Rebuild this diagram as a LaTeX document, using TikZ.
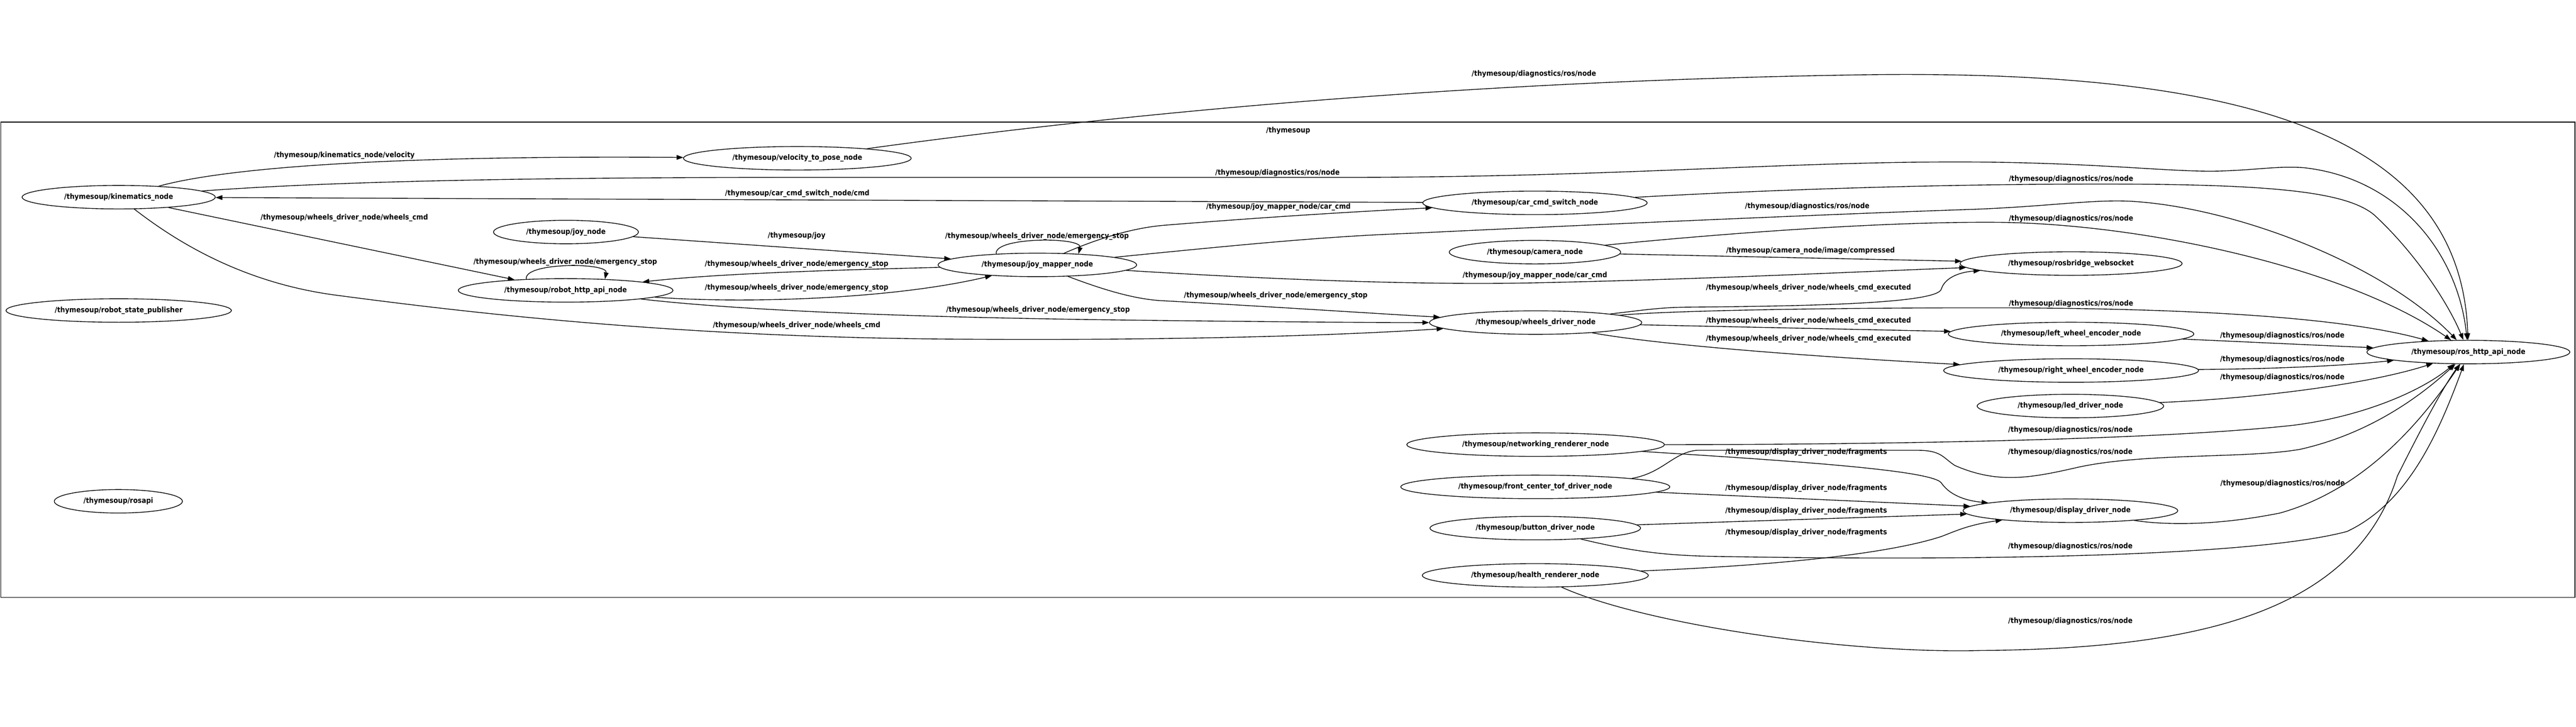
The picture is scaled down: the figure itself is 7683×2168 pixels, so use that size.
\documentclass[tikz,border=0pt]{standalone}
\usepackage{fontspec}
\setmainfont{DejaVu Sans}[FakeStretch=0.9]
\usetikzlibrary{shapes.geometric}
\usetikzlibrary{arrows.meta}
\tikzset{
    rosnode/.style = {ellipse, line width=0.6pt, draw=black, align=center, minimum height=0.70cm, inner sep=0pt, font=\bfseries\fontsize{6.25}{7}\selectfont, text=black},
    toplbl/.style = {inner sep=0pt, font=\bfseries\fontsize{6.25}{7}\selectfont, text=black},
    edgen/.style = {-{Triangle[length=2mm,width=1.4mm]}, line width=0.6pt, black},
    grpbox/.style = {line width=0.6pt, draw=black}, % namespace box
}
\begin{document}
\begin{tikzpicture}[x=0.01cm,y=-0.01cm]
%
\draw[grpbox] (2,364) rectangle (7680,1782);
\node[toplbl] at (3842,389) (grp) {/thymesoup};
%
\node[rosnode,minimum width=5.76cm] at (354,588) (kin) {/thymesoup/kinematics\_node};
\node[rosnode,minimum width=6.72cm] at (354,926) (rsp) {/thymesoup/robot\_state\_publisher};
\node[rosnode,minimum width=3.82cm] at (353,1495) (rosapi) {/thymesoup/rosapi};
\node[rosnode,minimum width=4.32cm] at (1688,692) (joy) {/thymesoup/joy\_node};
\node[rosnode,minimum width=6.40cm] at (1687,866) (rha) {/thymesoup/robot\_http\_api\_node};
\node[rosnode,minimum width=6.79cm] at (2378,472) (vtp) {/thymesoup/velocity\_to\_pose\_node};
\node[rosnode,minimum width=5.92cm] at (3094,790) (jm) {/thymesoup/joy\_mapper\_node};
\node[rosnode,minimum width=6.69cm] at (4578,605) (ccs) {/thymesoup/car\_cmd\_switch\_node};
\node[rosnode,minimum width=5.11cm] at (4578,752) (cam) {/thymesoup/camera\_node};
\node[rosnode,minimum width=6.33cm] at (4580,962) (wd) {/thymesoup/wheels\_driver\_node};
\node[rosnode,minimum width=7.68cm] at (4580,1326) (net) {/thymesoup/networking\_renderer\_node};
\node[rosnode,minimum width=8.02cm] at (4579,1452) (tof) {/thymesoup/front\_center\_tof\_driver\_node};
\node[rosnode,minimum width=6.28cm] at (4579,1575) (btn) {/thymesoup/button\_driver\_node};
\node[rosnode,minimum width=6.74cm] at (4579,1716) (hr) {/thymesoup/health\_renderer\_node};
\node[rosnode,minimum width=6.62cm] at (6177,786) (rbw) {/thymesoup/rosbridge\_websocket};
\node[rosnode,minimum width=7.32cm] at (6177,996) (lwe) {/thymesoup/left\_wheel\_encoder\_node};
\node[rosnode,minimum width=7.60cm] at (6177,1105) (rwe) {/thymesoup/right\_wheel\_encoder\_node};
\node[rosnode,minimum width=5.56cm] at (6175,1211) (led) {/thymesoup/led\_driver\_node};
\node[rosnode,minimum width=6.40cm] at (6175,1523) (dd) {/thymesoup/display\_driver\_node};
\node[rosnode,minimum width=6.05cm] at (7362,1050) (ros) {/thymesoup/ros\_http\_api\_node};
%
\node[toplbl] at (1027,464) (lvel) {/thymesoup/kinematics\_node/velocity};
\node[toplbl] at (1027,650) (lwc1) {/thymesoup/wheels\_driver\_node/wheels\_cmd};
\node[toplbl] at (2376,970) (lwc2) {/thymesoup/wheels\_driver\_node/wheels\_cmd};
\node[toplbl] at (2378,577) (lcmd) {/thymesoup/car\_cmd\_switch\_node/cmd};
\node[toplbl] at (2376,703) (ljoy) {/thymesoup/joy};
\node[toplbl] at (2376,788) (les1) {/thymesoup/wheels\_driver\_node/emergency\_stop};
\node[toplbl] at (2376,858) (les2) {/thymesoup/wheels\_driver\_node/emergency\_stop};
\node[toplbl] at (1686,781) (les3) {/thymesoup/wheels\_driver\_node/emergency\_stop};
\node[toplbl] at (3093,705) (les4) {/thymesoup/wheels\_driver\_node/emergency\_stop};
\node[toplbl] at (3805,881) (les5) {/thymesoup/wheels\_driver\_node/emergency\_stop};
\node[toplbl] at (3096,925) (les6) {/thymesoup/wheels\_driver\_node/emergency\_stop};
\node[toplbl] at (3813,617) (lcar1) {/thymesoup/joy\_mapper\_node/car\_cmd};
\node[toplbl] at (4578,822) (lcar2) {/thymesoup/joy\_mapper\_node/car\_cmd};
\node[toplbl] at (5400,748) (limg) {/thymesoup/camera\_node/image/compressed};
\node[toplbl] at (5394,859) (lex1) {/thymesoup/wheels\_driver\_node/wheels\_cmd\_executed};
\node[toplbl] at (5394,957) (lex2) {/thymesoup/wheels\_driver\_node/wheels\_cmd\_executed};
\node[toplbl] at (5394,1011) (lex3) {/thymesoup/wheels\_driver\_node/wheels\_cmd\_executed};
\node[toplbl] at (5387,1348) (lfr1) {/thymesoup/display\_driver\_node/fragments};
\node[toplbl] at (5387,1456) (lfr2) {/thymesoup/display\_driver\_node/fragments};
\node[toplbl] at (5387,1524) (lfr3) {/thymesoup/display\_driver\_node/fragments};
\node[toplbl] at (5387,1589) (lfr4) {/thymesoup/display\_driver\_node/fragments};
\node[toplbl] at (4575,221) (ld1) {/thymesoup/diagnostics/ros/node};
\node[toplbl] at (3810,516) (ld2) {/thymesoup/diagnostics/ros/node};
\node[toplbl] at (6177,534) (ld3) {/thymesoup/diagnostics/ros/node};
\node[toplbl] at (5390,616) (ld4) {/thymesoup/diagnostics/ros/node};
\node[toplbl] at (6177,653) (ld5) {/thymesoup/diagnostics/ros/node};
\node[toplbl] at (6177,906) (ld6) {/thymesoup/diagnostics/ros/node};
\node[toplbl] at (6807,1001) (ld7) {/thymesoup/diagnostics/ros/node};
\node[toplbl] at (6807,1072) (ld8) {/thymesoup/diagnostics/ros/node};
\node[toplbl] at (6807,1126) (ld9) {/thymesoup/diagnostics/ros/node};
\node[toplbl] at (6175,1282) (ld10) {/thymesoup/diagnostics/ros/node};
\node[toplbl] at (6175,1348) (ld11) {/thymesoup/diagnostics/ros/node};
\node[toplbl] at (6808,1442) (ld12) {/thymesoup/diagnostics/ros/node};
\node[toplbl] at (6175,1630) (ld13) {/thymesoup/diagnostics/ros/node};
\node[toplbl] at (6175,1852) (ld14) {/thymesoup/diagnostics/ros/node};
%
\draw[edgen] (kin) .. controls (620,515) and (1000,462) .. (vtp);
\draw[edgen] (kin) -- (rha);
\draw[edgen] (kin) .. controls (500,700) and (700,840) .. (1000,880) .. controls (1400,933) and (2000,1003) .. (2800,1011) .. controls (3500,1017) and (4000,1000) .. (wd);
\draw[edgen] (kin) .. controls (1000,540) and (1600,529) .. (2400,529) -- (4000,529) .. controls (4800,529) and (5300,483) .. (5833,483) .. controls (6250,483) and (6480,515) .. (6625,510) .. controls (6740,506) and (6790,495) .. (6870,500) .. controls (7150,530) and (7330,750) .. (ros);
\draw[edgen] (vtp) .. controls (3300,345) and (4300,245) .. (5500,224) .. controls (6700,200) and (7340,400) .. (ros);
\draw[edgen] (ccs) -- (kin);
\draw[edgen] (ccs) .. controls (5300,565) and (5800,548) .. (6308,549) .. controls (6800,550) and (7000,575) .. (7080,640) .. controls (7200,750) and (7300,900) .. (ros);
\draw[edgen] (joy) -- (jm);
\draw[edgen] (jm) .. controls (2500,805) and (2150,815) .. (rha);
\draw[edgen] (rha) .. controls (2200,905) and (2650,895) .. (jm);
\draw[edgen] (rha.164) .. controls (1560,782) and (1815,782) .. (rha.16);
\draw[edgen] (jm.165) .. controls (2962,706) and (3230,706) .. (jm.15);
\draw[edgen] (rha) .. controls (2200,925) and (2700,947) .. (3400,955) .. controls (3800,960) and (4100,962) .. (wd);
\draw[edgen] (jm) .. controls (3300,700) and (3400,678) .. (3470,672) .. controls (3800,645) and (4100,628) .. (ccs);
\draw[edgen] (jm) .. controls (3700,730) and (3950,705) .. (4203,696) .. controls (4700,672) and (5500,637) .. (5865,625) .. controls (6100,617) and (6230,595) .. (6350,600) .. controls (6650,615) and (7100,780) .. (ros);
\draw[edgen] (jm) .. controls (3900,840) and (4300,850) .. (4600,843) .. controls (5100,832) and (5500,812) .. (rbw);
\draw[edgen] (jm) .. controls (3280,860) and (3380,893) .. (3470,897) .. controls (3800,915) and (4100,935) .. (wd);
\draw[edgen] (cam) -- (rbw);
\draw[edgen] (cam) .. controls (5100,700) and (5600,660) .. (5960,663) .. controls (6400,668) and (7000,800) .. (ros);
\draw[edgen] (wd) .. controls (4900,925) and (4950,917) .. (5030,916) .. controls (5400,913) and (5780,905) .. (5790,862) .. controls (5800,830) and (5840,812) .. (rbw);
\draw[edgen] (wd) .. controls (5000,925) and (5500,918) .. (5913,918) .. controls (6400,918) and (6950,935) .. (ros);
\draw[edgen] (wd) -- (lwe);
\draw[edgen] (wd) .. controls (4900,1020) and (5250,1055) .. (rwe);
\draw[edgen] (lwe) -- (ros);
\draw[edgen] (rwe) .. controls (6800,1100) and (7000,1090) .. (ros);
\draw[edgen] (led) .. controls (6700,1190) and (7050,1150) .. (ros);
\draw[edgen] (net) .. controls (5600,1326) and (6450,1312) .. (6842,1268) .. controls (7060,1240) and (7230,1160) .. (ros);
\draw[edgen] (net) .. controls (5300,1372) and (5760,1400) .. (5790,1440) .. controls (5810,1470) and (5850,1492) .. (dd);
\draw[edgen] (tof.5) .. controls (4960,1410) and (4990,1350) .. (5060,1343) -- (5720,1343) .. controls (5790,1343) and (5795,1365) .. (5830,1388) .. controls (5960,1445) and (6060,1425) .. (6200,1393) .. controls (6400,1350) and (6700,1368) .. (6860,1340) .. controls (7060,1295) and (7210,1190) .. (ros);
\draw[edgen] (tof) -- (dd);
\draw[edgen] (btn) -- (dd);
\draw[edgen] (btn) .. controls (4850,1640) and (4950,1656) .. (5100,1659) .. controls (5800,1672) and (6700,1665) .. (7000,1585) .. controls (7180,1500) and (7270,1300) .. (ros);
\draw[edgen] (hr) .. controls (5200,1690) and (5600,1662) .. (5790,1600) .. controls (5830,1585) and (5870,1565) .. (dd);
\draw[edgen] (hr) .. controls (4900,1860) and (5500,1950) .. (5905,1940) .. controls (6550,1935) and (7020,1830) .. (7150,1420) .. controls (7230,1260) and (7290,1150) .. (ros);
\draw[edgen] (dd) .. controls (6450,1565) and (6600,1570) .. (6800,1530) .. controls (7050,1460) and (7220,1260) .. (ros);

\path[use as bounding box] (0,0) rectangle (7683,2168);

\end{tikzpicture}
\end{document}
